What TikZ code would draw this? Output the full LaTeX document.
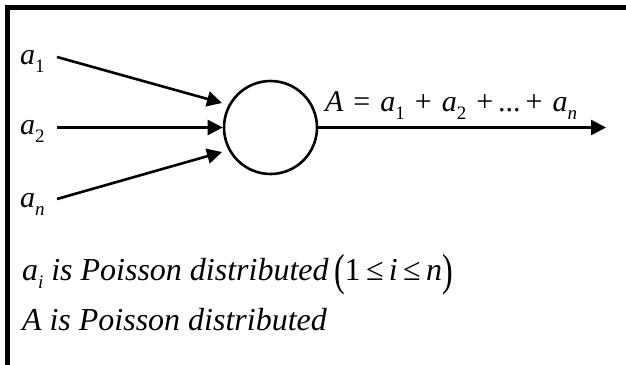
\documentclass[tikz,border=0pt]{standalone}
\usepackage{fontspec}
\setmainfont{Liberation Serif}
\usetikzlibrary{arrows.meta}
\newcommand\mysub[1]{\raisebox{-0.27em}{\fontsize{19}{19}\selectfont #1}}
\newcommand\bigpar[1]{\raisebox{-0.18em}{\scalebox{1}[1.4]{#1}}}
\tikzset{
  lab/.style={inner sep=0pt, outer sep=0pt, font=\fontsize{30}{36}\selectfont, anchor=base west},
  txt/.style={inner sep=0pt, outer sep=0pt, font=\fontsize{32}{38}\selectfont, anchor=base west},
  arr/.style={line width=2.6pt, -{Triangle[length=15pt,width=15pt]}},
  proc/.style={circle, draw, line width=2.6pt, minimum size=93pt, inner sep=0pt}
}
\begin{document}
\begin{tikzpicture}[x=1pt,y=-1pt]
\useasboundingbox (0,0) rectangle (626,364);
\clip (0,0) rectangle (626,364);
\draw[line width=5pt] (7.5,400) -- (7.5,7.5) -- (700,7.5);

\node[proc] (c) at (270.5,127.5) {};

\node[lab] (a1) at (20,64) {\textit{a}\mysub{1}};
\node[lab] (a2) at (20,134) {\textit{a}\mysub{2}};
\node[lab] (an) at (20,207) {\textit{a}\mysub{\textit{n}}};

\coordinate (s1) at (57,57);
\coordinate (s2) at (57,127.5);
\coordinate (s3) at (57,199);
\coordinate (t1) at (222,103);
\coordinate (t3) at (222,152);
\coordinate (out) at (606,127.5);

\draw[arr] (s1) -- (t1);
\draw[arr] (s2) -- (c.west);
\draw[arr] (s3) -- (t3);
\draw[arr] (c.east) -- (out);

\node[lab] (sum) at (325,111) {\textit{A}\,\,=\,\,\textit{a}\mysub{1}\,\,+\,\,\textit{a}\mysub{2}\,\,+\,...\,+\,\,\textit{a}\mysub{\textit{n}}};

\node[txt] (l1) at (22,280) {\textit{a}\mysub{\textit{i}} \textit{is Poisson distributed}\,\bigpar{(}1\,≤\,\textit{i}\,≤\,\textit{n}\bigpar{)}};
\node[txt] (l2) at (22,330) {\textit{A is Poisson distributed}};
\end{tikzpicture}
\end{document}
